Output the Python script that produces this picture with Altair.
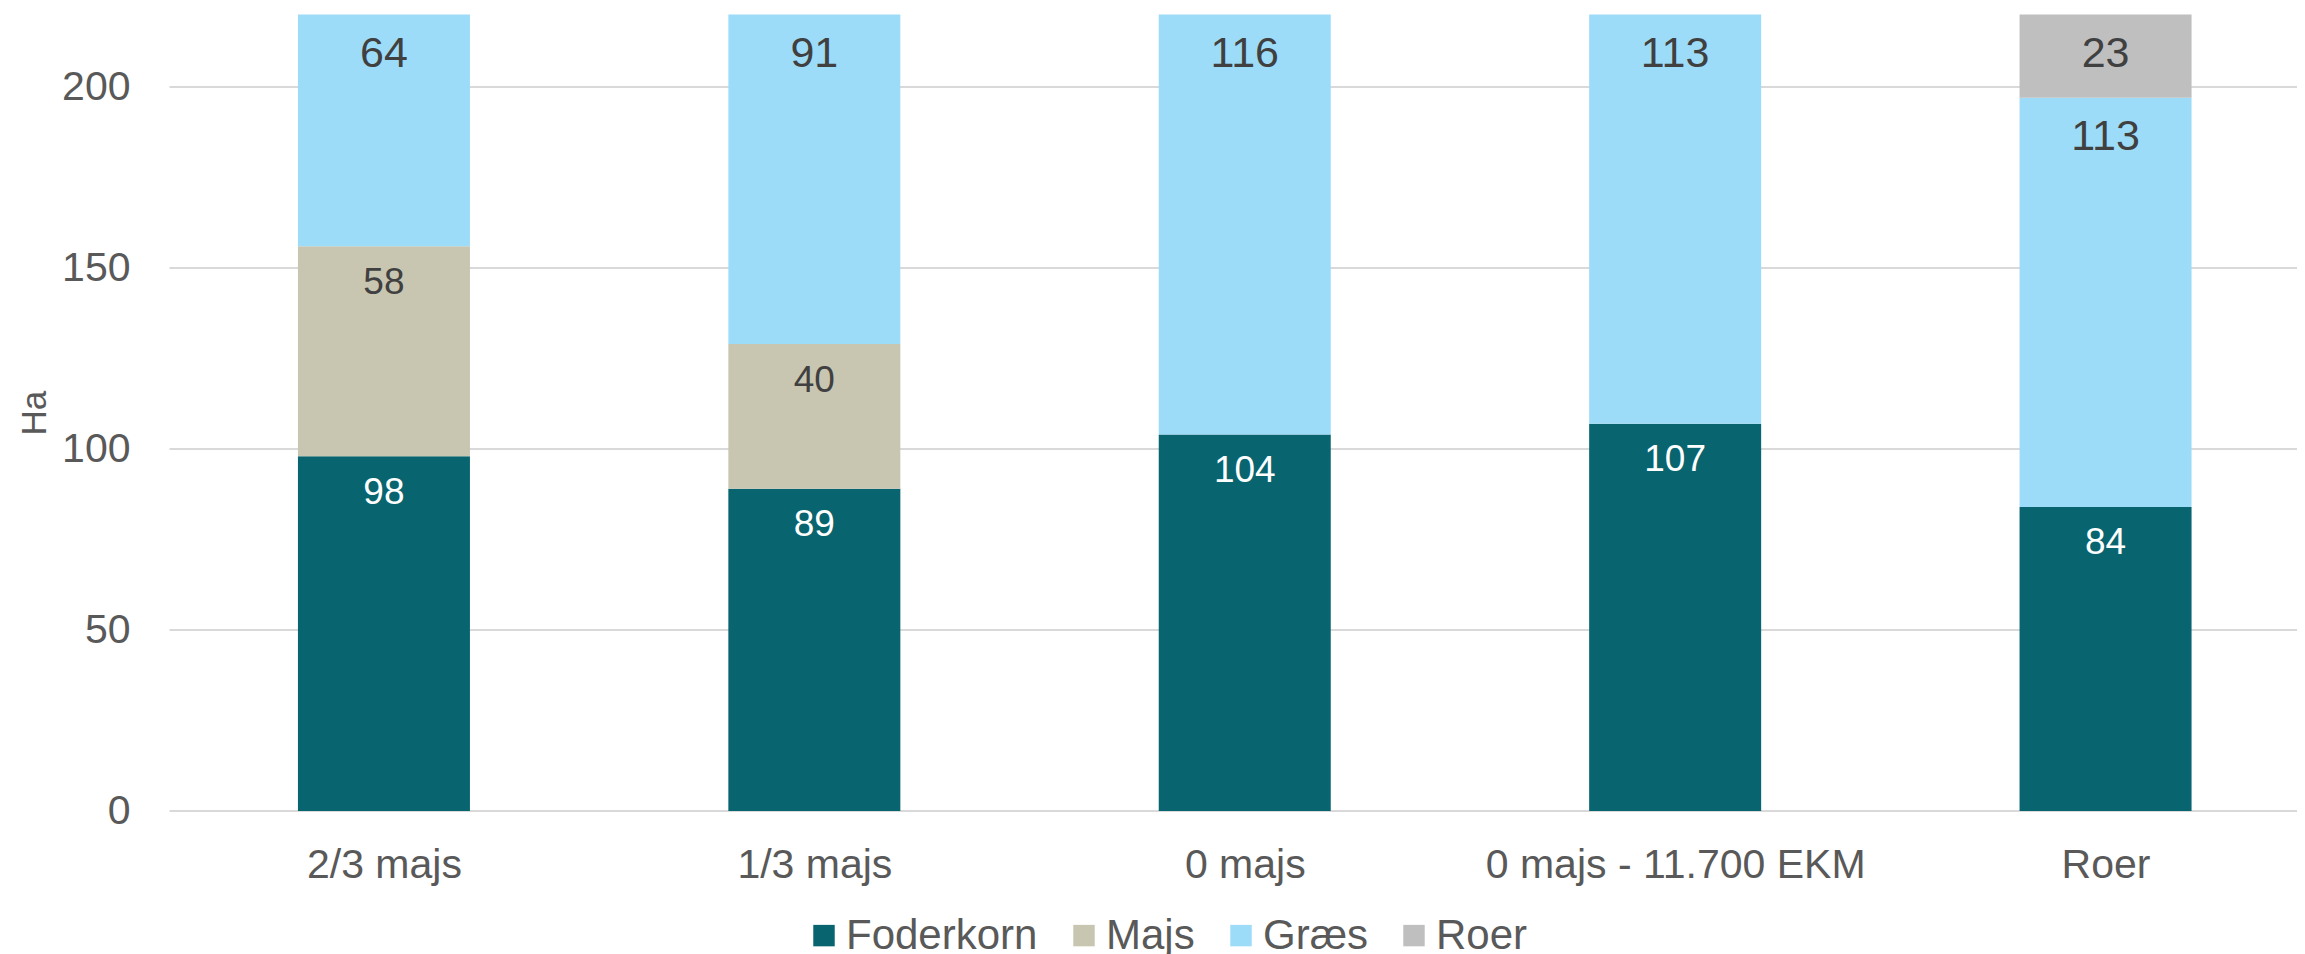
import json
import altair as alt
import pandas as pd

categories = ["2/3 majs", "1/3 majs", "0 majs", "0 majs - 11.700 EKM", "Roer"]
crops = ["Foderkorn", "Majs", "Græs", "Roer"]
foderkorn = [98, 89, 104, 107, 84]
majs = [58, 40, 0, 0, 0]
graes = [64, 91, 116, 113, 113]
roer = [0, 0, 0, 0, 23]
colors = ["#08646F", "#C8C6B0", "#9DDCF8", "#BFBFBF"]

rows = []
for ci, (crop, vals) in enumerate(zip(crops, [foderkorn, majs, graes, roer])):
    for i, v in enumerate(vals):
        if v > 0:
            rows.append({"scenario": categories[i], "xi": i, "crop": crop, "ord": ci, "ha": v})
df = pd.DataFrame(rows)

FONT = "Liberation Sans"
GREY = "#595959"
label_expr = json.dumps(categories, ensure_ascii=False) + "[datum.value]"

x_scale = alt.Scale(domain=[-0.4994, 4.4448], nice=False, zero=False, padding=0)
x_enc = alt.X(
    "xi:Q",
    scale=x_scale,
    axis=alt.Axis(
        values=[0, 1, 2, 3, 4], labelExpr=label_expr, title=None, grid=False,
        domain=False, ticks=False, tickSize=0, labelPadding=34, labelFontSize=41,
        labelColor=GREY, labelFont=FONT, labelLimit=1000,
    ),
)
y_scale = alt.Scale(domain=[0, 220], nice=False)

base = alt.Chart(df)

bars = base.mark_bar(size=172).encode(
    x=x_enc,
    y=alt.Y(
        "ha:Q",
        stack="zero",
        scale=y_scale,
        axis=alt.Axis(
            values=[0, 50, 100, 150, 200], title="Ha", grid=True, gridColor="#D9D9D9",
            gridWidth=2, domain=False, ticks=False, tickSize=0, labelPadding=39,
            labelFontSize=41, labelColor=GREY, labelFont=FONT,
            titleFontSize=35, titleColor=GREY, titleFont=FONT, titleFontWeight="normal",
            titleX=-124, titleY=398, titleAlign="center", titleBaseline="alphabetic",
        ),
    ),
    color=alt.Color(
        "crop:N",
        scale=alt.Scale(domain=crops, range=colors),
        legend=alt.Legend(
            title=None, orient="none", legendX=634, legendY=900, direction="horizontal",
            symbolType="square", symbolSize=460, symbolStrokeWidth=0,
            labelFontSize=42, labelColor=GREY, labelFont=FONT, labelOffset=1,
            labelLimit=500, columnPadding=25, padding=0,
        ),
    ),
    order=alt.Order("ord:Q", sort="ascending"),
)

stacked = base.transform_stack(
    stack="ha", groupby=["scenario"], as_=["y0", "y1"],
    sort=[alt.SortField("ord", order="ascending")],
)

def labels(filter_expr, color, size, dy):
    return stacked.transform_filter(filter_expr).mark_text(
        baseline="middle", align="center", dy=dy, fontSize=size, color=color, font=FONT
    ).encode(
        x=alt.X("xi:Q", scale=x_scale),
        y=alt.Y("y1:Q", scale=y_scale),
        text=alt.Text("ha:Q"),
    )

t1 = labels("datum.crop == 'Foderkorn'", "#FFFFFF", 37, 36.5)
t2 = labels("datum.crop == 'Majs'", "#404040", 37, 37)
t3 = labels("datum.crop == 'Græs' || datum.crop == 'Roer'", "#404040", 43, 39)

chart = alt.layer(bars, t1, t2, t3).properties(
    width=2128, height=796.4,
    autosize=alt.AutoSizeParams(type="none"),
    padding={"left": 161, "top": 6.6, "right": 0, "bottom": 150},
).configure(font=FONT, view=alt.ViewConfig(stroke=None))

chart.save("out.html", embed_options={"renderer": "svg", "actions": False})
